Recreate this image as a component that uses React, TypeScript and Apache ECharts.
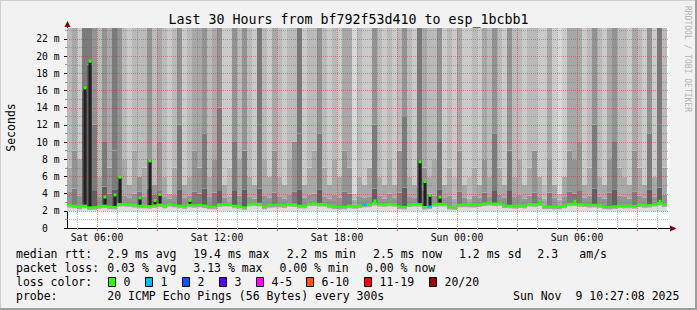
import React, { useEffect, useRef } from "react";
import * as echarts from "echarts";

// Time is in minutes since Sat 00:00. Each smoke column covers 15 minutes.
const T_START = 270; // Sat 04:30
const T_END = 2076;
const COL_MIN = 15;
const Y_MAX = 23.26;

// median rtt (ms) per 15-min column
const medianMs = [
  2.67, 2.6, 2.48, 2.6, 2.4, 2.42, 2.55, 2.6, 2.5, 2.46, 2.8, 2.8, 2.75, 2.68, 2.6, 2.58, 2.55, 2.63, 2.72, 2.6, 2.78, 2.7, 2.6, 2.52,
  2.7, 2.65, 2.7, 2.62, 2.5, 2.48, 2.76, 2.8, 2.78, 2.6, 2.55, 2.4, 2.82, 2.86, 2.82, 2.48, 2.65, 2.68, 2.7, 2.62, 2.8, 2.75, 2.6, 2.58,
  2.84, 2.86, 2.8, 2.78, 2.6, 2.5, 2.45, 2.48, 2.6, 2.55, 2.62, 2.7, 2.72, 2.9, 2.8, 2.76, 2.82, 2.78, 2.5, 2.46, 2.75, 2.8, 2.78, 2.45,
  2.5, 2.78, 2.82, 2.8, 2.45, 2.4, 2.7, 2.72, 2.7, 2.68, 2.74, 2.86, 2.9, 2.84, 2.88, 2.62, 2.6, 2.55, 2.62, 2.58, 2.8, 2.76, 2.85, 2.5,
  2.5, 2.46, 2.48, 2.6, 2.82, 2.86, 2.78, 2.74, 2.68, 2.7, 2.64, 2.5, 2.46, 2.52, 2.62, 2.58, 2.6, 2.55, 2.72, 2.65, 2.68, 2.8, 2.9, 2.75,
];

// upper end (ms) of the dense smoke band just above the median
const bandTop = [
  4.2, 4.6, 3.8, 5.0, 5.0, 4.4, 3.6, 4.8, 4.0, 4.5, 4.6, 3.8, 3.5, 4.0, 4.2, 3.7, 4.6, 3.9, 4.3, 3.6, 3.4, 3.9, 4.5, 3.5,
  3.8, 4.2, 4.0, 4.6, 3.6, 4.1, 4.4, 3.5, 3.7, 4.3, 3.8, 4.5, 3.6, 3.4, 4.6, 3.8, 3.5, 4.1, 3.7, 3.4, 3.9, 4.2, 4.5, 3.5,
  3.9, 4.0, 4.5, 3.7, 3.4, 3.9, 3.5, 4.2, 4.0, 3.3, 3.7, 3.5, 3.6, 4.6, 3.8, 3.4, 4.0, 3.5, 4.1, 4.7, 3.7, 3.5, 4.8, 4.3,
  4.0, 3.8, 4.5, 3.5, 3.8, 3.4, 4.2, 3.5, 3.4, 3.8, 3.5, 4.1, 3.7, 4.4, 3.9, 3.5, 4.4, 3.7, 3.9, 3.4, 3.8, 4.1, 3.6, 3.4,
  4.1, 3.5, 3.3, 3.6, 4.2, 4.0, 4.3, 3.5, 3.8, 4.6, 3.7, 3.4, 4.1, 4.5, 3.8, 3.7, 3.4, 4.2, 3.8, 3.5, 4.5, 3.6, 4.7, 3.9,
];

// upper end (ms) of the middle smoke layer
const midTop = [
  7, 9, 8, 16, 19, 12, 6, 10, 7, 9, 6, 8, 5, 9, 6, 7, 8, 5, 10, 6, 4, 7, 12, 5,
  6, 9, 7, 11, 6, 8, 14, 5, 7, 10, 8, 9, 6, 5, 12, 8, 6, 9, 6, 5, 8, 10, 11, 5,
  7, 9, 11, 7, 5, 8, 6, 9, 7, 4, 6, 5, 7, 12, 6, 5, 8, 5, 9, 13, 6, 5, 8, 7,
  6, 8, 10, 5, 7, 6, 9, 5, 6, 7, 5, 8, 6, 11, 7, 5, 9, 6, 8, 5, 7, 9, 6, 5,
  8, 5, 4, 6, 9, 8, 10, 5, 7, 12, 6, 5, 8, 10, 7, 6, 5, 9, 7, 5, 11, 6, 12, 7,
];

// smoke density (1 = sparse .. 7 = dense) of the middle layer
const midDensity = [
  4, 5, 4, 7, 7, 6, 4, 6, 5, 6, 6, 4, 4, 4, 5, 4, 6, 5, 5, 4, 4, 4, 6, 4,
  4, 5, 5, 6, 4, 5, 6, 4, 3, 6, 4, 6, 4, 4, 6, 4, 4, 5, 4, 4, 4, 5, 6, 4,
  4, 4, 6, 4, 4, 4, 4, 5, 5, 3, 4, 4, 4, 6, 4, 4, 4, 4, 5, 6, 4, 4, 7, 5,
  4, 4, 6, 4, 4, 3, 5, 4, 3, 4, 4, 5, 4, 6, 4, 4, 6, 4, 4, 4, 4, 5, 4, 3,
  5, 4, 3, 4, 5, 5, 5, 4, 4, 6, 4, 4, 5, 6, 4, 4, 4, 5, 4, 4, 6, 4, 6, 4,
];

// smoke density of the upper layer (reaching the top of the chart)
const topDensity = [
  3, 4, 2, 6, 6, 5, 3, 5, 4, 6, 5, 3, 2, 3, 3, 3, 5, 3, 4, 3, 2, 3, 5, 2,
  3, 4, 4, 5, 3, 4, 5, 2, 2, 5, 3, 5, 3, 2, 6, 3, 2, 4, 3, 2, 3, 3, 6, 2,
  3, 3, 5, 3, 2, 3, 2, 4, 4, 1, 3, 2, 2, 5, 3, 2, 3, 2, 3, 5, 3, 2, 6, 4,
  3, 3, 5, 2, 3, 2, 4, 2, 2, 3, 2, 4, 3, 5, 3, 2, 5, 3, 3, 2, 3, 3, 2, 2,
  4, 2, 1, 2, 4, 4, 4, 2, 3, 5, 3, 2, 4, 5, 3, 3, 2, 4, 3, 2, 5, 2, 6, 3,
];

// columns whose median briefly peaked
const spikeCol = [3, 4, 7, 9, 10, 14, 16, 17, 18, 24, 61, 70, 71, 72, 74, 94, 101, 118];
const spikeMs = [16.3, 19.4, 3.6, 3.85, 5.9, 3.5, 7.8, 3.2, 3.9, 3.2, 3.15, 7.7, 5.4, 3.8, 3.6, 3.1, 3.1, 3.1];

// columns with packet loss
const lossCol = [59, 72];
const lossCount = [1, 1];

// axis ticks / grid
const yLabelTicks = [0, 2, 4, 6, 8, 10, 12, 14, 16, 18, 20, 22];
const yMinorTicks = [1, 3, 5, 7, 9, 11, 13, 15, 17, 19, 21, 23];
const xLabelTicks = [360, 720, 1080, 1440, 1800];
const xMajorGrid = [360, 540, 720, 900, 1080, 1260, 1440, 1620, 1800, 1980];
const xMinorGrid = [300, 420, 480, 600, 660, 780, 840, 960, 1020, 1140, 1200, 1320, 1380, 1500, 1560, 1680, 1740, 1860, 1920, 2040];

const lossLabels = ["0", "1", "2", "3", "4-5", "6-10", "11-19", "20/20"];
const lossColors = ["#26ff00", "#00b8ff", "#0059ff", "#5e00ff", "#ff00ff", "#ff5500", "#ff0000", "#a10000"];

const MONO = '"DejaVu Sans Mono", monospace';
const SHADES = ["#ffffff", "#d8d8d8", "#cacaca", "#bababa", "#a8a8a8", "#939393", "#7b7b7b", "#606060"];

function colorForLoss(n: number) {
  if (n === 0) return lossColors[0];
  if (n === 1) return lossColors[1];
  if (n === 2) return lossColors[2];
  if (n === 3) return lossColors[3];
  if (n <= 5) return lossColors[4];
  if (n <= 10) return lossColors[5];
  if (n <= 19) return lossColors[6];
  return lossColors[7];
}

function buildOption() {
  const smokeData = medianMs.map((m, i) => [
    T_START + i * COL_MIN,
    T_START + (i + 1) * COL_MIN,
    m,
    bandTop[i],
    midTop[i],
    midDensity[i],
    topDensity[i],
  ]);
  const medianData = medianMs.map((m, i) => {
    const li = lossCol.indexOf(i);
    return [T_START + i * COL_MIN, T_START + (i + 1) * COL_MIN, m, li >= 0 ? lossCount[li] : 0];
  });
  const spikeData = spikeCol.map((c, i) => [T_START + c * COL_MIN, T_START + (c + 1) * COL_MIN, spikeMs[i], medianMs[c]]);
  const gridData: number[][] = [];
  yLabelTicks.forEach((v) => v > 0 && gridData.push([T_START + 1, v, 0]));
  yMinorTicks.forEach((v) => v < Y_MAX && gridData.push([T_START + 1, v, 1]));
  xMajorGrid.forEach((v) => gridData.push([v, 1, 2]));
  xMinorGrid.forEach((v) => gridData.push([v, 1, 3]));

  const MAJOR = "rgba(228,40,40,0.5)";
  const MINOR = "rgba(110,110,110,0.45)";

  const txt = (text: string, x: number, y: number, extra: any = {}) => ({
    type: "text",
    x,
    y,
    silent: true,
    style: { text, fill: "#000", fontFamily: MONO, fontSize: 11.5, align: "left", verticalAlign: "middle", ...extra },
  });

  const boxX = [108.5, 145.5, 182.5, 219.5, 256.5, 306.5, 364.5, 429.5];
  const legend: any[] = [];
  lossLabels.forEach((lab, i) => {
    legend.push({
      type: "rect",
      silent: true,
      shape: { x: boxX[i], y: 277.5, width: 7, height: 9 },
      style: { fill: lossColors[i], stroke: "#000", lineWidth: 1 },
    });
    legend.push(txt(lab, boxX[i] + 15, 282.3));
  });

  const graphic: any[] = [
    // frame
    { type: "line", silent: true, shape: { x1: 0, y1: 0.5, x2: 697, y2: 0.5 }, style: { stroke: "#cfcfcf", lineWidth: 1 } },
    { type: "line", silent: true, shape: { x1: 0.5, y1: 0, x2: 0.5, y2: 310 }, style: { stroke: "#cfcfcf", lineWidth: 1 } },
    { type: "rect", silent: true, shape: { x: 695, y: 0, width: 2, height: 310 }, style: { fill: "#9e9e9e" } },
    { type: "rect", silent: true, shape: { x: 0, y: 308, width: 697, height: 2 }, style: { fill: "#9e9e9e" } },
    // axis extensions and arrows
    { type: "line", silent: true, z: 20, shape: { x1: 67.5, y1: 28, x2: 67.5, y2: 25 }, style: { stroke: "#000", lineWidth: 1 } },
    { type: "line", silent: true, z: 20, shape: { x1: 669, y1: 228.5, x2: 672, y2: 228.5 }, style: { stroke: "#000", lineWidth: 1 } },
    { type: "polygon", silent: true, z: 20, shape: { points: [[64.5, 27], [67.5, 21], [70.5, 27]] }, style: { fill: "#7f0000" } },
    { type: "polygon", silent: true, z: 20, shape: { points: [[670, 225.5], [676.5, 228.5], [670, 231.5]] }, style: { fill: "#7f0000" } },
    // title
    txt("Last 30 Hours from bf792f53d410 to esp_1bcbb1", 348.5, 19.4, { fontSize: 13.3, align: "center" }),
    // y name
    { ...txt("Seconds", 10.5, 127.5, { align: "center" }), rotation: Math.PI / 2 },
    // watermark
    { ...txt("RRDTOOL / TOBI OETIKER", 687.5, 59, { align: "center", fontSize: 8, fill: "#b4b4b4" }), rotation: -Math.PI / 2 },
    // legend rows
    txt("median rtt:", 16, 254.3),
    txt("2.9 ms avg", 107.3, 254.3),
    txt("19.4 ms max", 193.3, 254.3),
    txt("2.2 ms min", 286.7, 254.3),
    txt("2.5 ms now", 373, 254.3),
    txt("1.2 ms sd", 459, 254.3),
    txt("2.3", 537.3, 254.3),
    txt("am/s", 579.3, 254.3),
    txt("packet loss:", 16, 268.3),
    txt("0.03 % avg", 107.3, 268.3),
    txt("3.13 % max", 193.3, 268.3),
    txt("0.00 % min", 279.5, 268.3),
    txt("0.00 % now", 366, 268.3),
    txt("loss color:", 16, 282.3),
    ...legend,
    txt("probe:", 16, 296),
    txt("20 ICMP Echo Pings (56 Bytes) every 300s", 107.3, 296),
    txt("Sun Nov", 513, 296),
    txt("9 10:27:08 2025", 575.5, 296),
  ];

  return {
    animation: false,
    backgroundColor: "#f2f2f2",
    grid: { left: 67, top: 28, width: 602, height: 200, show: true, backgroundColor: "#ffffff", borderWidth: 0 },
    xAxis: [
      {
        type: "value",
        min: T_START,
        max: T_END,
        position: "bottom",
        axisLine: { show: true, onZero: false, lineStyle: { color: "#000", width: 1 } },
        axisTick: { show: true, customValues: xMajorGrid, length: 3, lineStyle: { color: "#e05050" } },
        axisLabel: {
          customValues: xLabelTicks,
          formatter: (v: number) => `${v < 1440 ? "Sat" : "Sun"} ${String(Math.floor((v % 1440) / 60)).padStart(2, "0")}:00`,
          fontFamily: MONO,
          fontSize: 9.7,
          color: "#000",
          margin: 4,
        },
        splitLine: { show: false },
      },
      {
        type: "value",
        min: T_START,
        max: T_END,
        position: "bottom",
        axisLine: { show: false },
        axisTick: { show: true, customValues: xMinorGrid, length: 2, lineStyle: { color: "#999" } },
        axisLabel: { show: false },
        splitLine: { show: false },
      },
    ],
    yAxis: [
      {
        type: "value",
        min: 0,
        max: Y_MAX,
        interval: 2,
        axisLine: { show: true, onZero: false, lineStyle: { color: "#000", width: 1 } },
        axisTick: { show: true, customValues: yLabelTicks, length: 3, lineStyle: { color: "#000" } },
        axisLabel: {
          customValues: yLabelTicks,
          formatter: (v: number) => (v === 0 ? "0\u00a0\u00a0" : `${v} m`),
          fontFamily: MONO,
          fontSize: 9.7,
          color: "#000",
          margin: 7.5,
        },
        splitLine: { show: false },
      },
      {
        type: "value",
        min: 0,
        max: Y_MAX,
        interval: 1,
        position: "left",
        axisLine: { show: false },
        axisTick: { show: true, customValues: yMinorTicks.filter((v) => v < Y_MAX), length: 2, lineStyle: { color: "#999" } },
        axisLabel: { show: false },
        splitLine: { show: false },
      },
    ],
    series: [
      {
        type: "custom",
        name: "smoke",
        z: 2,
        silent: true,
        encode: { x: [0, 1], y: [2] },
        data: smokeData,
        renderItem: (params: any, api: any) => {
          const t0 = api.value(0);
          const t1 = api.value(1);
          const med = api.value(2);
          const band = api.value(3);
          const mt = api.value(4);
          const md = api.value(5);
          const td = api.value(6);
          const x0 = api.coord([t0, 0])[0];
          const x1 = api.coord([t1, 0])[0];
          const y = (v: number) => api.coord([t0, Math.min(v, Y_MAX)])[1];
          const rect = (lo: number, hi: number, fill: string) => ({
            type: "rect",
            shape: { x: x0, y: y(hi), width: x1 - x0, height: Math.max(0, y(lo) - y(hi)) },
            style: { fill },
          });
          return {
            type: "group",
            children: [
              rect(1.95, med, "#dcdcdc"),
              rect(med - 0.3, med, "#a8a8a8"),
              rect(med, band, SHADES[Math.min(7, md + 1)]),
              rect(band, mt, SHADES[md]),
              rect(mt, Y_MAX, SHADES[td]),
            ],
          };
        },
      },
      {
        type: "custom",
        name: "grid",
        z: 3,
        silent: true,
        encode: { x: 0, y: 1 },
        data: gridData,
        renderItem: (params: any, api: any) => {
          const cs = params.coordSys;
          const kind = api.value(2);
          const pt = api.coord([api.value(0), api.value(1)]);
          if (kind < 2) {
            const yy = Math.round(pt[1]) + 0.5;
            return {
              type: "line",
              shape: { x1: cs.x, y1: yy, x2: cs.x + cs.width, y2: yy },
              style: { stroke: kind === 0 ? MAJOR : MINOR, lineWidth: 1, lineDash: [1, 1] },
            };
          }
          const xx = Math.round(pt[0]) + 0.5;
          return {
            type: "line",
            shape: { x1: xx, y1: cs.y, x2: xx, y2: cs.y + cs.height },
            style: { stroke: kind === 2 ? MAJOR : MINOR, lineWidth: 1, lineDash: [1, 1] },
          };
        },
      },
      {
        type: "custom",
        name: "spikes",
        z: 4,
        silent: true,
        encode: { x: [0, 1], y: [2] },
        data: spikeData,
        renderItem: (params: any, api: any) => {
          const x0 = api.coord([api.value(0), 0])[0];
          const x1 = api.coord([api.value(1), 0])[0];
          const cx = Math.round((x0 + x1) / 2) - 1.5;
          const yp = api.coord([api.value(0), api.value(2)])[1];
          const ym = api.coord([api.value(0), api.value(3)])[1];
          return {
            type: "group",
            children: [
              { type: "rect", shape: { x: cx, y: yp, width: 3, height: ym - yp }, style: { fill: "#222222" } },
              { type: "rect", shape: { x: cx, y: yp - 1.5, width: 3, height: 3 }, style: { fill: lossColors[0] } },
            ],
          };
        },
      },
      {
        type: "custom",
        name: "median",
        z: 5,
        silent: true,
        encode: { x: [0, 1], y: [2] },
        data: medianData,
        renderItem: (params: any, api: any) => {
          const x0 = api.coord([api.value(0), 0])[0];
          const x1 = api.coord([api.value(1), 0])[0];
          const ym = api.coord([api.value(0), api.value(2)])[1];
          return {
            type: "rect",
            shape: { x: x0, y: ym - 1, width: x1 - x0, height: 2.2 },
            style: { fill: colorForLoss(api.value(3)) },
          };
        },
      },
    ],
    graphic,
  };
}

export default function App() {
  const ref = useRef<HTMLDivElement>(null);
  useEffect(() => {
    const chart = echarts.init(ref.current!, null, { renderer: "svg" });
    chart.setOption(buildOption() as any);
    return () => chart.dispose();
  }, []);
  return <div ref={ref} style={{ position: "absolute", left: 0, top: 0, width: 697, height: 310 }} />;
}
